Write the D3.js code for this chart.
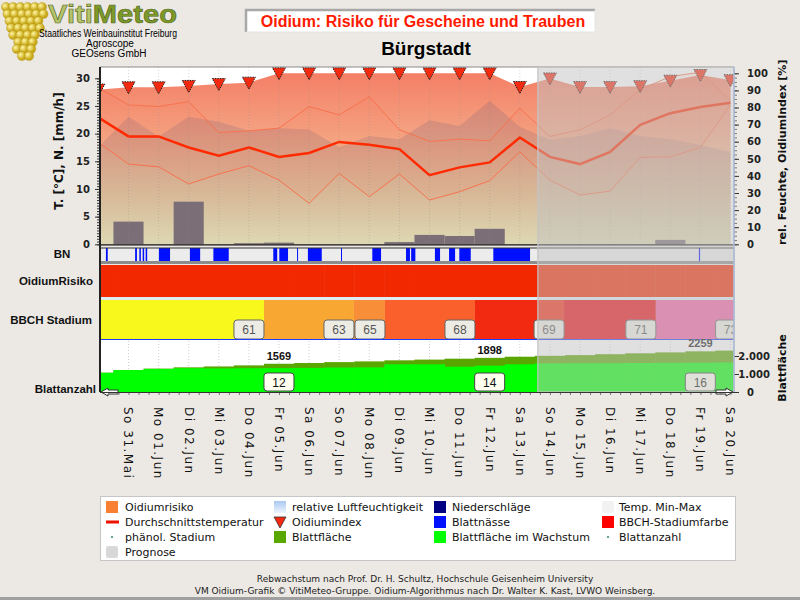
<!DOCTYPE html>
<html>
<head>
<meta charset="utf-8">
<script src="https://cdn.jsdelivr.net/npm/d3@7"></script>
<style>
  body { margin: 0; background: #ece9e5; }
  svg { display: block; }
</style>
</head>
<body>
<svg id="chart" width="800" height="600"></svg>
<script>
// ---- data ----
const dayLabels = ["So 31.Mai","Mo 01.Jun","Di 02.Jun","Mi 03.Jun","Do 04.Jun","Fr 05.Jun","Sa 06.Jun",
  "So 07.Jun","Mo 08.Jun","Di 09.Jun","Mi 10.Jun","Do 11.Jun","Fr 12.Jun","Sa 13.Jun","So 14.Jun",
  "Mo 15.Jun","Di 16.Jun","Mi 17.Jun","Do 18.Jun","Fr 19.Jun","Sa 20.Jun"];
// series start one day before the first label (day -1) and end at day 20
const seriesDays = d3.range(-1, 21);
const tempMean = [22.9,19.5,19.5,17.5,16.0,17.5,15.8,16.5,18.5,18.0,17.2,12.5,13.9,14.8,19.3,15.8,14.5,16.7,21.6,23.7,24.8,25.6];
const tempMax  = [28.3,25.2,24.9,25.8,20.2,20.5,21.0,24.9,23.4,26.7,20.7,18.6,19.0,18.7,24.6,19.5,20.7,23.4,28.0,30.3,31.1,26.0];
const tempMin  = [18.4,14.5,14.0,10.9,12.7,14.2,11.6,7.4,12.8,8.6,12.7,8.0,9.5,11.5,16.7,11.6,8.9,9.6,15.7,15.8,17.5,25.2];
const humidity = [57,74.6,63,74.6,71.7,66.4,67.8,67.2,56.7,63.3,61.4,72.6,69.2,84,68.8,61,63.3,67.8,63.3,61.4,58,54];
const oidiumIndex = [90.5,91.8,91.8,92.6,93.7,94.5,100,100,100,100,100,100,100,100,92,97,92,92,92.5,95.7,99,96];
const precip = [0,4.1,0,7.7,0,0.2,0.3,0,0,0,0.4,1.7,1.5,2.8,0,0,0,0,0,0.8,0,0];
const riskLevel = [3,3,3,3,3,3,3,3,3,3,3,3,3,3,3,3,3,3,3,3,3,3];
const leafArea   = [1070,1220,1300,1370,1420,1480,1569,1610,1660,1700,1760,1800,1850,1898,1960,2010,2050,2100,2150,2200,2259,2300];
const leafGrowth = [1070,1220,1280,1320,1310,1320,1330,1340,1360,1370,1540,1540,1405,1460,1540,1590,1600,1600,1610,1620,1630,1640];
const leafAreaLabelDays = [5, 12, 19];
// leaf wetness periods (fractional days)
const wetPeriods = [[-0.75,-0.69],[0.22,0.28],[0.36,0.41],[0.47,0.52],[0.57,0.62],[1.01,1.38],[2.04,2.38],
  [2.82,3.33],[4.81,4.94],[5.01,5.30],[5.60,5.63],[5.96,6.42],[7.06,7.09],[8.10,8.39],[9.22,9.35],
  [9.39,9.53],[10.18,10.35],[10.65,10.85],[10.99,11.37],[12.12,13.34],[18.95,18.99]];
const bbchCodes  = ["", "61", "63", "65", "68", "69", "71", "73"];
const bbchStarts = [-2, 4.5, 7.49, 8.52, 11.51, 14.47, 17.52, 20.5];
const leafCounts = [12, 14, 16];
const leafCountStarts = [4.5, 11.5, 18.5];
const forecastStart = 13.6;

// ---- styles ----
const bbchColors = {"": "#f8f81c", "61": "#f9a733", "63": "#f98e38", "65": "#f9602b", "68": "#f22a12",
  "69": "#ea0a12", "71": "#f05ea2", "73": "#f05ea2"};
const riskColors = {1: "#40c040", 2: "#f8d000", 3: "#f22800"};
const sansBold = "'DejaVu Sans', sans-serif";
const arial = "'Liberation Sans', Arial, sans-serif";

const svg = d3.select("#chart");
const defs = svg.append("defs");

const L = 100, R = 734, T = 67, B = 244.3;
const x = d3.scaleLinear().domain([-0.947, 20.116]).range([L, R]);
const yT = d3.scaleLinear().domain([0, 30]).range([B, 78.3]);
const yH = d3.scaleLinear().domain([0, 100]).range([B, 73.3]);
const yLeaf = d3.scaleLinear().domain([0, 2000]).range([392, 356]);

const grad = defs.append("linearGradient").attr("id", "oidGrad")
  .attr("gradientUnits", "userSpaceOnUse").attr("x1", 0).attr("x2", 0).attr("y1", 72).attr("y2", B);
[[0, "#f47e65"], [0.35, "#f4a282"], [0.7, "#f3cf9f"], [1, "#fbf8c2"]]
  .forEach(s => grad.append("stop").attr("offset", s[0]).attr("stop-color", s[1]));
const hGrad = defs.append("linearGradient").attr("id", "humGrad").attr("x1", 0).attr("x2", 0).attr("y1", 0).attr("y2", 1);
hGrad.append("stop").attr("offset", 0).attr("stop-color", "#a8c8f0");
hGrad.append("stop").attr("offset", 1).attr("stop-color", "#eef4ff");
const grapeGrad = defs.append("radialGradient").attr("id", "grape").attr("cx", 0.35).attr("cy", 0.35);
grapeGrad.append("stop").attr("offset", 0).attr("stop-color", "#fff6a0");
grapeGrad.append("stop").attr("offset", 1).attr("stop-color", "#c8a818");

defs.append("clipPath").attr("id", "plotClip").append("rect")
  .attr("x", L).attr("y", T).attr("width", R - L).attr("height", 392 - T);
defs.append("clipPath").attr("id", "rightLabelClip").append("rect")
  .attr("x", 740).attr("y", 60).attr("width", 60).attr("height", 200);

// ---- header ----
const logo = svg.append("g");
const grapeRows = [6, 6, 5, 5, 4, 3, 3, 2];
grapeRows.forEach((n, r) => {
  d3.range(n).forEach(c => {
    logo.append("circle")
      .attr("cx", 24 - (n - 1) * 3.6 + c * 7.2 + (r % 2) * 1.5)
      .attr("cy", 7 + r * 7)
      .attr("r", 4.6)
      .attr("fill", "url(#grape)").attr("stroke", "#b09010").attr("stroke-width", 0.4);
  });
});
const vt = logo.append("text").attr("x", 48).attr("y", 23)
  .attr("font-family", arial).attr("font-size", 25).attr("font-weight", "bold")
  .attr("textLength", 129).attr("lengthAdjust", "spacingAndGlyphs")
  .attr("stroke", "#55661a").attr("stroke-width", 0.6);
vt.append("tspan").attr("fill", "#b4c46a").text("Viti");
vt.append("tspan").attr("fill", "#7c9a2a").text("Meteo");
logo.append("text").attr("x", 39).attr("y", 37).attr("font-family", arial).attr("font-size", 10)
  .attr("textLength", 138).attr("lengthAdjust", "spacingAndGlyphs").text("Staatliches Weinbauinstitut Freiburg");
logo.append("text").attr("x", 110).attr("y", 47).attr("text-anchor", "middle").attr("font-family", arial)
  .attr("font-size", 10).text("Agroscope");
logo.append("text").attr("x", 109).attr("y", 57).attr("text-anchor", "middle").attr("font-family", arial)
  .attr("font-size", 10).text("GEOsens GmbH");

svg.append("rect").attr("x", 246).attr("y", 10).attr("width", 349).attr("height", 22).attr("fill", "#fff");
svg.append("path").attr("d", "M246,32 V10 H595").attr("fill", "none").attr("stroke", "#a8a8a8").attr("stroke-width", 2.5);
svg.append("path").attr("d", "M246,32 H595 V10").attr("fill", "none").attr("stroke", "#e4e4e4").attr("stroke-width", 1);
svg.append("text").attr("x", 423).attr("y", 27).attr("text-anchor", "middle")
  .attr("font-family", arial).attr("font-size", 16).attr("font-weight", "bold").attr("fill", "#ff1a00")
  .text("Oidium: Risiko für Gescheine und Trauben");
svg.append("text").attr("x", 426).attr("y", 55).attr("text-anchor", "middle")
  .attr("font-family", arial).attr("font-size", 19).attr("font-weight", "bold").attr("fill", "#000")
  .text("Bürgstadt");

// ---- main plot ----
const plot = svg.append("g").attr("clip-path", "url(#plotClip)");
plot.append("rect").attr("x", L).attr("y", T).attr("width", R - L).attr("height", B - T).attr("fill", "#fff");

const idx = seriesDays.map((d, i) => i);
plot.append("path")
  .attr("d", d3.area().x(i => x(seriesDays[i])).y0(B).y1(i => yH(oidiumIndex[i]))(idx))
  .attr("fill", "url(#oidGrad)");
plot.append("path")
  .attr("d", d3.area().x(i => x(seriesDays[i])).y0(B).y1(i => yH(humidity[i]))(idx))
  .attr("fill", "rgba(105,90,120,0.2)");
plot.append("path")
  .attr("d", d3.area().x(i => x(seriesDays[i])).y0(i => yT(tempMin[i])).y1(i => yT(tempMax[i]))(idx))
  .attr("fill", "rgba(255,110,80,0.08)");
[tempMax, tempMin].forEach(arr => {
  plot.append("path")
    .attr("d", d3.line().x(i => x(seriesDays[i])).y(i => yT(arr[i]))(idx))
    .attr("fill", "none").attr("stroke", "#f8724e").attr("stroke-width", 1);
});
plot.selectAll(".bar").data(idx.filter(i => precip[i] > 0)).join("rect")
  .attr("x", i => x(seriesDays[i] - 0.5)).attr("width", i => x(seriesDays[i] + 0.5) - x(seriesDays[i] - 0.5))
  .attr("y", i => yT(precip[i])).attr("height", i => B - yT(precip[i]))
  .attr("fill", "#7b6e76");
plot.append("path")
  .attr("d", d3.line().x(i => x(seriesDays[i])).y(i => yT(tempMean[i]))(idx))
  .attr("fill", "none").attr("stroke", "#ff2a00").attr("stroke-width", 2.5);
plot.selectAll(".grid").data(seriesDays).join("line")
  .attr("x1", d => x(d)).attr("x2", d => x(d)).attr("y1", T).attr("y2", B)
  .attr("stroke", "rgba(140,140,140,0.35)").attr("stroke-dasharray", "1,2");
plot.selectAll(".tri").data(idx).join("path")
  .attr("transform", i => `translate(${x(seriesDays[i])},${yH(oidiumIndex[i])})`)
  .attr("d", "M-6.5,-5.5 L6.5,-5.5 L0,6.5 Z")
  .attr("fill", "#f42a10").attr("stroke", "#222").attr("stroke-width", 1).attr("stroke-dasharray", "1.5,1");
svg.append("line").attr("x1", L).attr("x2", R).attr("y1", B + 0.5).attr("y2", B + 0.5)
  .attr("stroke", "#111").attr("stroke-width", 1.2);
svg.append("line").attr("x1", L).attr("x2", R).attr("y1", T).attr("y2", T)
  .attr("stroke", "#8a8a8a").attr("stroke-width", 1);

// ---- BN strip ----
const strips = svg.append("g").attr("clip-path", "url(#plotClip)");
strips.append("rect").attr("x", L).attr("y", 248).attr("width", R - L).attr("height", 13).attr("fill", "#ececec");
strips.selectAll(".wet").data(wetPeriods).join("rect")
  .attr("x", d => x(d[0])).attr("width", d => Math.max(1, x(d[1]) - x(d[0])))
  .attr("y", 248).attr("height", 13).attr("fill", "#0010ff");
strips.append("line").attr("x1", L).attr("x2", R).attr("y1", 248).attr("y2", 248).attr("stroke", "#333");
strips.append("rect").attr("x", L).attr("y", 261).attr("width", R - L).attr("height", 3).attr("fill", "#8c8c8c");

// ---- Oidium risk strip ----
strips.selectAll(".risk").data(idx).join("rect")
  .attr("x", i => x(seriesDays[i] - 0.5)).attr("width", i => x(seriesDays[i] + 0.5) - x(seriesDays[i] - 0.5) + 0.5)
  .attr("y", 265).attr("height", 32).attr("fill", i => riskColors[riskLevel[i]]);
strips.append("rect").attr("x", L).attr("y", 297).attr("width", R - L).attr("height", 3).attr("fill", "#dcecf2");

// ---- BBCH strip ----
strips.selectAll(".bbch").data(bbchCodes).join("rect")
  .attr("x", (c, i) => x(bbchStarts[i]))
  .attr("width", (c, i) => (i < bbchStarts.length - 1 ? x(bbchStarts[i + 1]) : x(bbchStarts[i] + 3)) - x(bbchStarts[i]))
  .attr("y", 300).attr("height", 39).attr("fill", c => bbchColors[c]);
const bbchBox = strips.selectAll(".bbchBox").data(bbchCodes.map((c, i) => i).filter(i => bbchCodes[i] !== ""))
  .join("g").attr("transform", i => `translate(${x(bbchStarts[i]) - 30},320)`);
bbchBox.append("rect").attr("width", 30).attr("height", 19).attr("rx", 3)
  .attr("fill", "#edece4").attr("stroke", "#666").attr("stroke-width", 1);
bbchBox.append("text").attr("x", 15).attr("y", 14).attr("text-anchor", "middle")
  .attr("font-family", arial).attr("font-size", 12).attr("fill", "#555").text(i => bbchCodes[i]);
strips.append("line").attr("x1", L).attr("x2", R).attr("y1", 339.5).attr("y2", 339.5).attr("stroke", "#1a3cff");

// ---- leaf area ----
strips.append("rect").attr("x", L).attr("y", 340).attr("width", R - L).attr("height", 52).attr("fill", "#fff");
strips.selectAll(".lgrid").data(seriesDays).join("line")
  .attr("x1", d => x(d)).attr("x2", d => x(d)).attr("y1", 341).attr("y2", 392)
  .attr("stroke", "#cfcfcf").attr("stroke-dasharray", "1,2");
strips.selectAll(".leafA").data(idx).join("rect")
  .attr("x", i => x(seriesDays[i] - 0.5)).attr("width", i => x(seriesDays[i] + 0.5) - x(seriesDays[i] - 0.5) + 0.5)
  .attr("y", i => yLeaf(leafArea[i])).attr("height", i => 392 - yLeaf(leafArea[i])).attr("fill", "#5aa600");
strips.selectAll(".leafG").data(idx).join("rect")
  .attr("x", i => x(seriesDays[i] - 0.5)).attr("width", i => x(seriesDays[i] + 0.5) - x(seriesDays[i] - 0.5) + 0.5)
  .attr("y", i => yLeaf(leafGrowth[i])).attr("height", i => 392 - yLeaf(leafGrowth[i])).attr("fill", "#00ff00");
strips.selectAll(".leafLbl").data(leafAreaLabelDays).join("text")
  .attr("x", d => x(d)).attr("y", d => yLeaf(leafArea[seriesDays.indexOf(d)]) - 4)
  .attr("text-anchor", "middle").attr("font-family", arial).attr("font-size", 11).attr("font-weight", "bold")
  .attr("fill", "#111").text(d => leafArea[seriesDays.indexOf(d)]);
const lcBox = strips.selectAll(".lcBox").data(leafCounts).join("g")
  .attr("transform", (d, i) => `translate(${x(leafCountStarts[i])},373)`);
lcBox.append("rect").attr("width", 30).attr("height", 18).attr("rx", 3)
  .attr("fill", "#fffff0").attr("stroke", "#444").attr("stroke-width", 1);
lcBox.append("text").attr("x", 15).attr("y", 13.5).attr("text-anchor", "middle")
  .attr("font-family", arial).attr("font-size", 12).attr("fill", "#111").text(d => d);

// ---- forecast overlay ----
svg.append("rect").attr("x", x(forecastStart)).attr("y", T).attr("width", R - x(forecastStart)).attr("height", 392 - T)
  .attr("fill", "rgba(194,194,194,0.5)").attr("stroke", "#c4c4c4").attr("stroke-width", 1.2);

// arrows at the leaf count baseline
svg.append("path").attr("d", "M101,392 L108,388 L108,390 L118,390 L118,394 L108,394 L108,396 Z")
  .attr("fill", "#fff").attr("stroke", "#333").attr("stroke-width", 1);
svg.append("path").attr("d", "M733,392 L726,388 L726,390 L716,390 L716,394 L726,394 L726,396 Z")
  .attr("fill", "#fff").attr("stroke", "#333").attr("stroke-width", 1);

// ---- axes ----
const styleAxis = g => {
  g.select(".domain").remove();
  g.selectAll("line").attr("stroke", "#333");
  g.selectAll("text").attr("font-family", sansBold).attr("font-weight", "bold").attr("font-size", 10).attr("fill", "#222");
};
svg.append("g").attr("transform", `translate(${L},0)`)
  .call(d3.axisLeft(yT).tickValues(d3.range(0, 30.1, 0.5)).tickSize(3).tickFormat(""))
  .call(styleAxis);
svg.append("g").attr("transform", `translate(${L},0)`)
  .call(d3.axisLeft(yT).tickValues(d3.range(0, 31, 5)).tickSize(5).tickPadding(5))
  .call(styleAxis);
svg.append("g").attr("transform", `translate(${R},0)`)
  .call(d3.axisRight(yH).tickValues(d3.range(0, 101, 2.5)).tickSize(3).tickFormat(""))
  .call(styleAxis).selectAll("line").attr("stroke", "#777");
svg.append("g").attr("transform", `translate(${R},0)`)
  .call(d3.axisRight(yH).tickValues(d3.range(0, 101, 10)).tickSize(5).tickPadding(8))
  .call(styleAxis);
const leafAxis = svg.append("g").attr("transform", `translate(${R},0)`)
  .call(d3.axisRight(yLeaf).tickValues([0, 1000, 2000]).tickSize(5).tickPadding(8)
    .tickFormat(d => d3.format(",")(d).replace(",", ".")))
  .call(styleAxis);
leafAxis.selectAll("text").filter(d => d > 0).attr("text-anchor", "end").attr("x", 36);
svg.append("g").attr("transform", "translate(0,392)")
  .call(d3.axisBottom(x).tickValues(d3.range(-2, 62).map(i => i / 3).filter(v => v > -0.94 && v < 20.1))
    .tickSize(3).tickFormat(""))
  .call(styleAxis).selectAll("line").attr("stroke", "#777");
svg.append("line").attr("x1", L).attr("x2", L).attr("y1", T).attr("y2", 392).attr("stroke", "#222").attr("stroke-width", 2);
svg.append("line").attr("x1", R).attr("x2", R).attr("y1", T).attr("y2", 392).attr("stroke", "#a8b8d4").attr("stroke-width", 1.5);
svg.append("line").attr("x1", L).attr("x2", R).attr("y1", 392.5).attr("y2", 392.5).attr("stroke", "#333");

svg.selectAll(".dayLbl").data(dayLabels).join("text")
  .attr("transform", (d, i) => `translate(${x(i)},407) rotate(90)`)
  .attr("dy", "0.35em").attr("font-family", sansBold).attr("font-size", 12)
  .attr("letter-spacing", 1.5).attr("fill", "#111").text(d => d);

// axis titles and row labels
svg.append("text").attr("transform", "translate(63,151) rotate(-90)").attr("text-anchor", "middle")
  .attr("font-family", sansBold).attr("font-weight", "bold").attr("font-size", 12).attr("fill", "#111")
  .text("T. [°C], N. [mm/h]");
svg.append("g").attr("clip-path", "url(#rightLabelClip)")
  .append("text").attr("transform", "translate(786,245) rotate(-90)").attr("text-anchor", "start")
  .attr("font-family", sansBold).attr("font-weight", "bold").attr("font-size", 11).attr("fill", "#111")
  .text("rel. Feuchte, OidiumIndex [%]");
svg.append("text").attr("transform", "translate(786,368) rotate(-90)").attr("text-anchor", "middle")
  .attr("font-family", sansBold).attr("font-weight", "bold").attr("font-size", 11).attr("fill", "#111")
  .text("Blattfläche");
[["BN", 62, 258, "middle"], ["OidiumRisiko", 93, 285, "end"], ["BBCH Stadium", 92, 324, "end"], ["Blattanzahl", 96, 393, "end"]]
  .forEach(r => svg.append("text").attr("x", r[1]).attr("y", r[2]).attr("text-anchor", r[3])
    .attr("font-family", arial).attr("font-weight", "bold").attr("font-size", 11.5).attr("fill", "#111").text(r[0]));

// ---- legend ----
const legendColumns = [
  ["Oidiumrisiko", "Durchschnittstemperatur", "phänol. Stadium", "Prognose"],
  ["relative Luftfeuchtigkeit", "Oidiumindex", "Blattfläche"],
  ["Niederschläge", "Blattnässe", "Blattfläche im Wachstum"],
  ["Temp. Min-Max", "BBCH-Stadiumfarbe", "Blattanzahl"]
];
const swatch = {
  "Oidiumrisiko": {type: "box", fill: "#f88030"},
  "Durchschnittstemperatur": {type: "line", fill: "#ee1100"},
  "phänol. Stadium": {type: "dot", fill: "#6a8"},
  "Prognose": {type: "box", fill: "#d8d8d8", rx: 2},
  "relative Luftfeuchtigkeit": {type: "box", fill: "url(#humGrad)"},
  "Oidiumindex": {type: "tri", fill: "#f42a10"},
  "Blattfläche": {type: "box", fill: "#58a800"},
  "Niederschläge": {type: "box", fill: "#000080"},
  "Blattnässe": {type: "box", fill: "#0010ff"},
  "Blattfläche im Wachstum": {type: "box", fill: "#00ff00"},
  "Temp. Min-Max": {type: "box", fill: "#f2f2f2", rx: 2},
  "BBCH-Stadiumfarbe": {type: "box", fill: "#ff0000"},
  "Blattanzahl": {type: "dot", fill: "#6a8"}
};
const colIcon = [106, 274, 434, 602], colText = [125, 292, 452, 619], rowY = [507, 522, 537, 552];
svg.append("rect").attr("x", 100.5).attr("y", 496.5).attr("width", 635).attr("height", 64)
  .attr("fill", "#fff").attr("stroke", "#c6c6c6");
legendColumns.forEach((col, c) => col.forEach((label, r) => {
  const s = swatch[label], cx = colIcon[c], cy = rowY[r];
  if (s.type === "box") svg.append("rect").attr("x", cx).attr("y", cy - 6).attr("width", 12).attr("height", 12)
    .attr("rx", s.rx || 0).attr("fill", s.fill);
  if (s.type === "line") svg.append("rect").attr("x", cx).attr("y", cy - 1.5).attr("width", 13).attr("height", 3).attr("fill", s.fill);
  if (s.type === "dot") svg.append("rect").attr("x", cx + 5).attr("y", cy - 1).attr("width", 2).attr("height", 2).attr("fill", s.fill);
  if (s.type === "tri") svg.append("path").attr("transform", `translate(${cx + 6},${cy})`)
    .attr("d", "M-6,-5 L6,-5 L0,6 Z").attr("fill", s.fill).attr("stroke", "#333").attr("stroke-width", 0.8);
  svg.append("text").attr("x", colText[c]).attr("y", cy + 4).attr("font-family", sansBold)
    .attr("font-size", 11).attr("fill", "#111").text(label);
}));

// ---- footer ----
svg.append("text").attr("x", 425).attr("y", 582).attr("text-anchor", "middle").attr("font-family", sansBold)
  .attr("font-size", 9).attr("fill", "#222").text("Rebwachstum nach Prof. Dr. H. Schultz, Hochschule Geisenheim University");
svg.append("text").attr("x", 425).attr("y", 594).attr("text-anchor", "middle").attr("font-family", sansBold)
  .attr("font-size", 9).attr("fill", "#222")
  .text("VM Oidium-Grafik © VitiMeteo-Gruppe. Oidium-Algorithmus nach Dr. Walter K. Kast, LVWO Weinsberg.");
svg.append("rect").attr("x", 0).attr("y", 597).attr("width", 800).attr("height", 3).attr("fill", "#a0a0a0");
</script>
</body>
</html>
